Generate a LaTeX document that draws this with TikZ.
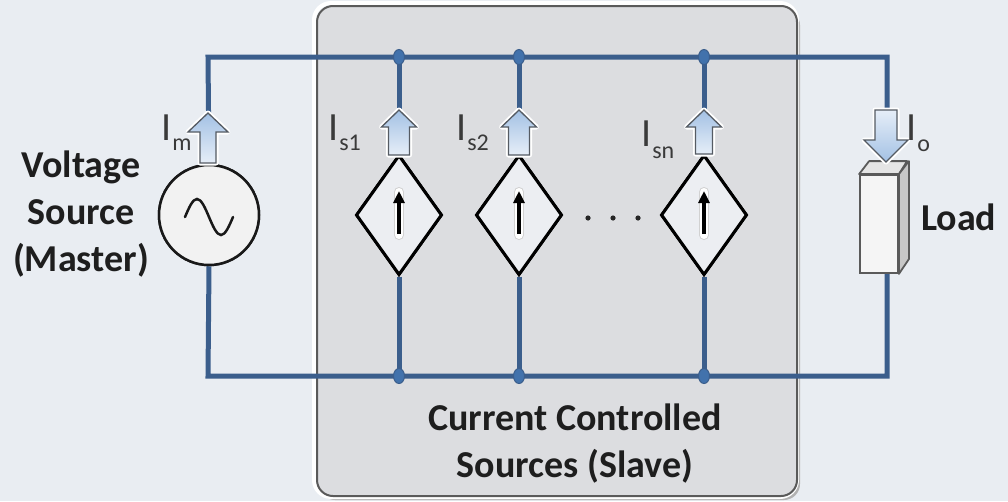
\documentclass[tikz,border=0pt]{standalone}
\usepackage{fontspec}
\setmainfont{Carlito}
\usetikzlibrary{shapes.geometric,arrows.meta}
\definecolor{bg}{HTML}{E9EDF2}
\definecolor{boxfill}{HTML}{DCDDE0}
\definecolor{boxedge}{HTML}{5A5A5A}
\definecolor{wire}{HTML}{3B5E8C}
\definecolor{dotc}{HTML}{4272AC}
\definecolor{arrtop}{HTML}{A3C1E4}
\definecolor{arrbot}{HTML}{E6EEF8}
\definecolor{arredge}{HTML}{555B63}
\definecolor{lbl}{HTML}{3A3A3A}
\definecolor{txt}{HTML}{1E1E1E}
\definecolor{diamfill}{HTML}{ECEEF2}
\tikzset{
  wirestyle/.style={draw=wire, line width=5pt},
  junc/.style={ellipse, fill=dotc, draw=wire, line width=1pt, minimum width=11pt, minimum height=15pt, inner sep=0pt},
  ccs/.style={diamond, draw=black, line width=3pt, fill=diamfill, minimum width=86pt, minimum height=120pt, inner sep=0pt},
  vsrc/.style={circle, draw=black!90, line width=2.5pt, fill=white!95!black, minimum size=100pt, inner sep=0pt},
  loadbox/.style={rectangle, draw=boxedge, line width=1.8pt, fill=white!96!black, minimum width=38pt, minimum height=98pt, inner sep=0pt},
  bigtxt/.style={text=txt, font=\bfseries\fontsize{38}{47}\selectfont, inner sep=0pt},
  ilab/.style={text=lbl, anchor=base west, inner sep=0pt},
  glow/.style={draw=white, line width=5pt, line join=round, line cap=round},
  inarrow/.style={draw=black, line width=3.5pt, -{Triangle[length=12pt,width=11pt]}},
  inglow/.style={draw=black!18, line width=10pt, line cap=round},
  inglowb/.style={draw=white, line width=8pt, line cap=round}
}
\newcommand{\blkarrow}[8]{%
  \path[glow] (#1,#2) -- ({#1+#4},{#2+(#6)}) -- ({#1+#5},{#2+(#6)}) -- ({#1+#5},#3) -- ({#1-#5},#3) -- ({#1-#5},{#2+(#6)}) -- ({#1-#4},{#2+(#6)}) -- cycle;
  \path[draw=arredge, line width=1.3pt, line join=miter, top color=#7, bottom color=#8] (#1,#2) -- ({#1+#4},{#2+(#6)}) -- ({#1+#5},{#2+(#6)}) -- ({#1+#5},#3) -- ({#1-#5},#3) -- ({#1-#5},{#2+(#6)}) -- ({#1-#4},{#2+(#6)}) -- cycle;}
\newcommand{\Ilab}[2]{{\fontsize{40}{40}\selectfont I}\hspace{1pt}{\fontsize{24}{24}\selectfont\raisebox{-#2pt}{#1}}}
\begin{document}
\begin{tikzpicture}[x=1pt,y=-1pt]
\useasboundingbox (0,0) rectangle (1008,501);
\fill[bg] (0,0) rectangle (1008,501);
% slave box
\fill[black!30, rounded corners=16pt] (319,9) rectangle (800,500);
\draw[white, line width=4pt, rounded corners=17pt] (314,3) rectangle (797,497);
\node[draw=boxedge, line width=2pt, fill=boxfill, rounded corners=16pt, minimum width=480pt, minimum height=490pt, inner sep=0pt] (box) at (557,251) {};
% coordinates
\coordinate (tl) at (208,57);
\coordinate (tr) at (887,57);
\coordinate (bl) at (208,376);
\coordinate (br) at (887,376);
\coordinate (j1t) at (399,57);
\coordinate (j2t) at (519,57);
\coordinate (jnt) at (704,57);
\coordinate (j1b) at (399,376);
\coordinate (j2b) at (519,376);
\coordinate (jnb) at (704,376);
\coordinate (ldtop) at (887,168);
\coordinate (ldbot) at (887,272);
% elements (placed for anchors)
\node[vsrc] (vs) at (209,215) {};
\node[ccs] (d1) at (399,215) {};
\node[ccs] (d2) at (519,215) {};
\node[ccs] (dn) at (704,215) {};
% wires
\draw[wirestyle] (vs.north) -- (tl) -- (tr) -- (ldtop);
\draw[wirestyle] (vs.south) -- (bl) -- (br) -- (ldbot);
\draw[wirestyle] (j1t) -- (d1.north);
\draw[wirestyle] (d1.south) -- (j1b);
\draw[wirestyle] (j2t) -- (d2.north);
\draw[wirestyle] (d2.south) -- (j2b);
\draw[wirestyle] (jnt) -- (dn.north);
\draw[wirestyle] (dn.south) -- (jnb);
% redraw elements on top of wires
\node[vsrc] at (vs) {};
\node[ccs] at (d1) {};
\node[ccs] at (d2) {};
\node[ccs] at (dn) {};
\begin{scope}[shift={(vs.center)}]
\draw[black!90, line width=2.5pt, line cap=round] (-24,2) sin (-12,-16) cos (0,2) sin (12,20) cos (24,2);
\end{scope}
% inner arrows of diamonds
\foreach \d in {d1,d2,dn}{
  \draw[inglow] ([yshift=-20pt]\d.center) -- ([yshift=23pt]\d.center);
  \draw[inglowb] ([yshift=-20pt]\d.center) -- ([yshift=23pt]\d.center);
  \draw[inarrow] ([yshift=-19pt]\d.center) -- ([yshift=24pt]\d.center);
}
% load
\node[loadbox] (load) at (879,224) {};
\draw[boxedge, line width=1.8pt, fill=white!90!black, line join=round] (load.north west) -- ++(10,-13) -- ++(38,0) -- (load.north east) -- cycle;
\draw[boxedge, line width=1.8pt, fill=black!22, line join=round] (load.north east) -- ++(10,-13) -- ++(0,98) -- (load.south east) -- cycle;
% junction dots
\foreach \j in {j1t,j2t,jnt,j1b,j2b,jnb}{\node[junc] at (\j) {};}
% block arrows
\blkarrow{208}{113}{163}{20}{8}{19}{arrtop}{arrbot}
\blkarrow{399}{110}{155}{17.5}{10.5}{17}{arrtop}{arrbot}
\blkarrow{519}{110}{155}{17.5}{10.5}{17}{arrtop}{arrbot}
\blkarrow{704}{110}{154}{17.5}{8.5}{17}{arrtop}{arrbot}
\blkarrow{886}{162}{110}{22}{11}{-22}{arrbot}{arrtop}
% dots
\foreach \xx [count=\k] in {588,613,638}{\fill[black!85] (\xx,218) circle (2.6pt) node (dot\k) {};}
% labels
\node[ilab] (lm) at (161,140) {\Ilab{m}{10}};
\node[ilab] (ls1) at (328,140) {\Ilab{s1}{10}};
\node[ilab] (ls2) at (456,140) {\Ilab{s2}{10}};
\node[ilab] (lsn) at (641,146) {\Ilab{sn}{12}};
\node[ilab] (lo) at (906,140) {\Ilab{o}{11}};
\node[bigtxt, align=center] (vsl) at (81,214) {Voltage\\Source\\(Master)};
\node[bigtxt, anchor=base west] (loadl) at (921,230) {Load};
\node[bigtxt, align=center] (ccsl) at (575,444) {Current Controlled\\Sources (Slave)};
\end{tikzpicture}
\end{document}
